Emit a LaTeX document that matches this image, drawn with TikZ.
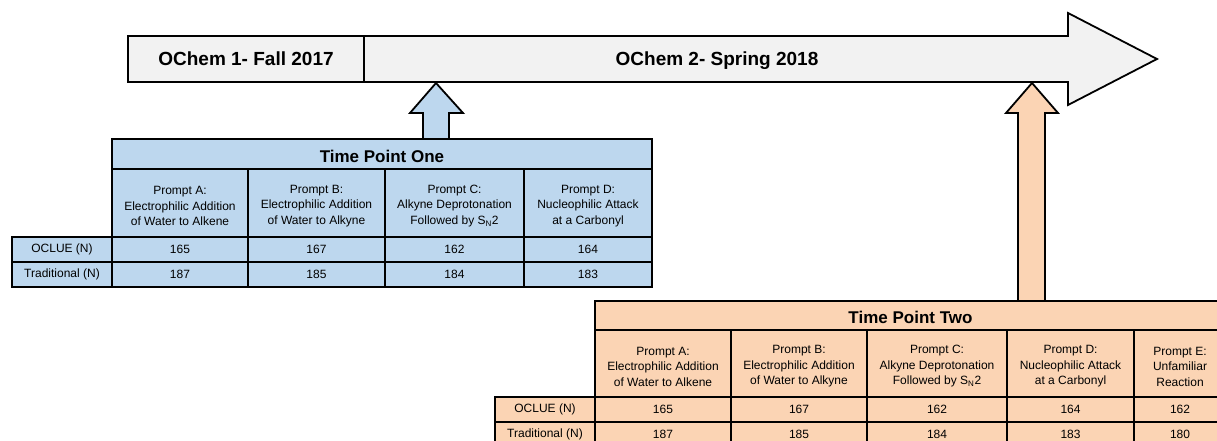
\documentclass[tikz,border=0pt]{standalone}
\usepackage{fontspec}
\setmainfont{Liberation Sans}
\definecolor{lgray}{HTML}{F2F2F2}
\definecolor{lblue}{HTML}{BDD7EE}
\definecolor{lorange}{HTML}{FBD4B4}
\tikzset{
  cellbox/.style={draw=black, line width=1.8pt, inner sep=0pt},
  celltxt/.style={inner sep=0pt, align=center, font=\fontsize{12}{15.5}\selectfont},
  hdrtxt/.style={celltxt, yshift=-3pt},
  titletxt/.style={inner sep=0pt, font=\fontsize{17}{20}\selectfont\bfseries, yshift=-2pt},
  outl/.style={draw=black, line width=1.8pt, line join=miter},
  bigtxt/.style={font=\fontsize{19}{22}\selectfont\bfseries, inner sep=0pt, anchor=base}
}
% #1 box style, #2 name, #3 x1, #4 y1, #5 x2, #6 y2, #7 text, #8 text style
\newcommand\mycell[8]{%
  \node[#1, minimum width={(#5)-(#3)}, minimum height={(#6)-(#4)}] (#2) at ({((#3)+(#5))/2},{((#4)+(#6))/2}) {};
  \node[#8] (#2t) at (#2.center) {#7};}
\begin{document}
\begin{tikzpicture}[x=1pt,y=-1pt]
\useasboundingbox (0,0) rectangle (1217,441);
% main timeline arrow
\path[outl, fill=lgray] (128,36) -- (1068,36) -- (1068,13) -- (1157,59) -- (1068,105) -- (1068,82) -- (128,82) -- cycle;
\draw[outl] (364,36) -- (364,82);
\node[bigtxt] (fall) at (246,66) {OChem 1- Fall 2017};
\node[bigtxt] (spring) at (717,66) {OChem 2- Spring 2018};
% up arrows
\path[outl, fill=lblue] (423,140) -- (423,113) -- (410,113) -- (436,83) -- (463,113) -- (449,113) -- (449,140);
\path[outl, fill=lorange] (1018,301) -- (1018,113) -- (1006,113) -- (1032,83) -- (1058,113) -- (1045,113) -- (1045,301);
% Table one
\begin{scope}[every node/.append style={}]
\tikzset{tb/.style={cellbox, fill=lblue}}
\mycell{tb}{t1title}{112}{139}{652}{169}{Time Point One}{titletxt}
\mycell{tb}{t1hA}{112}{169}{248}{237}{Prompt A:\\Electrophilic Addition\\of Water to Alkene}{hdrtxt}
\mycell{tb}{t1hB}{248}{169}{385}{237}{Prompt B:\\Electrophilic Addition\\of Water to Alkyne}{hdrtxt}
\mycell{tb}{t1hC}{385}{169}{524}{237}{Prompt C:\\Alkyne Deprotonation\\Followed by S\textsubscript{N}2}{hdrtxt}
\mycell{tb}{t1hD}{524}{169}{652}{237}{Prompt D:\\Nucleophilic Attack\\at a Carbonyl}{hdrtxt}
\mycell{tb}{t1r1}{12}{237}{112}{262}{OCLUE (N)}{celltxt}
\mycell{tb}{t1r1A}{112}{237}{248}{262}{165}{celltxt}
\mycell{tb}{t1r1B}{248}{237}{385}{262}{167}{celltxt}
\mycell{tb}{t1r1C}{385}{237}{524}{262}{162}{celltxt}
\mycell{tb}{t1r1D}{524}{237}{652}{262}{164}{celltxt}
\mycell{tb}{t1r2}{12}{262}{112}{287}{Traditional (N)}{celltxt}
\mycell{tb}{t1r2A}{112}{262}{248}{287}{187}{celltxt}
\mycell{tb}{t1r2B}{248}{262}{385}{287}{185}{celltxt}
\mycell{tb}{t1r2C}{385}{262}{524}{287}{184}{celltxt}
\mycell{tb}{t1r2D}{524}{262}{652}{287}{183}{celltxt}
\end{scope}
% Table two
\begin{scope}
\tikzset{to/.style={cellbox, fill=lorange}}
\mycell{to}{t2title}{595}{301}{1226}{330}{Time Point Two}{titletxt}
\mycell{to}{t2hA}{595}{330}{731}{397}{Prompt A:\\Electrophilic Addition\\of Water to Alkene}{hdrtxt}
\mycell{to}{t2hB}{731}{330}{867}{397}{Prompt B:\\Electrophilic Addition\\of Water to Alkyne}{hdrtxt}
\mycell{to}{t2hC}{867}{330}{1007}{397}{Prompt C:\\Alkyne Deprotonation\\Followed by S\textsubscript{N}2}{hdrtxt}
\mycell{to}{t2hD}{1007}{330}{1134}{397}{Prompt D:\\Nucleophilic Attack\\at a Carbonyl}{hdrtxt}
\mycell{to}{t2hE}{1134}{330}{1226}{397}{Prompt E:\\Unfamiliar\\Reaction}{hdrtxt}
\mycell{to}{t2r1}{495}{397}{595}{422}{OCLUE (N)}{celltxt}
\mycell{to}{t2r1A}{595}{397}{731}{422}{165}{celltxt}
\mycell{to}{t2r1B}{731}{397}{867}{422}{167}{celltxt}
\mycell{to}{t2r1C}{867}{397}{1007}{422}{162}{celltxt}
\mycell{to}{t2r1D}{1007}{397}{1134}{422}{164}{celltxt}
\mycell{to}{t2r1E}{1134}{397}{1226}{422}{162}{celltxt}
\mycell{to}{t2r2}{495}{422}{595}{447}{Traditional (N)}{celltxt}
\mycell{to}{t2r2A}{595}{422}{731}{447}{187}{celltxt}
\mycell{to}{t2r2B}{731}{422}{867}{447}{185}{celltxt}
\mycell{to}{t2r2C}{867}{422}{1007}{447}{184}{celltxt}
\mycell{to}{t2r2D}{1007}{422}{1134}{447}{183}{celltxt}
\mycell{to}{t2r2E}{1134}{422}{1226}{447}{180}{celltxt}
\end{scope}
\end{tikzpicture}
\end{document}
